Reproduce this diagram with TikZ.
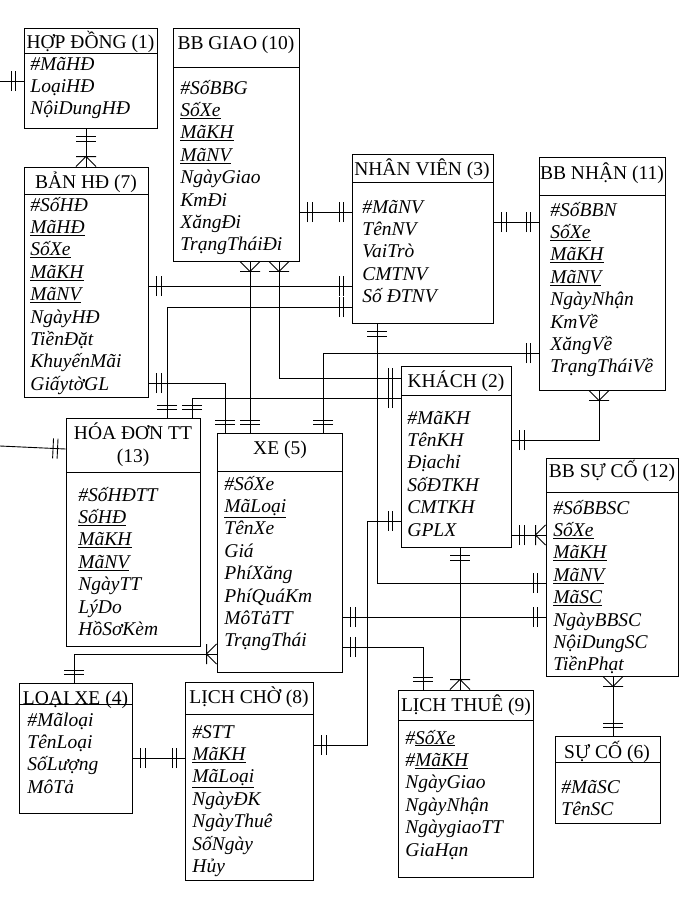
\documentclass[tikz,border=0pt]{standalone}
\usepackage{fontspec}
\setmainfont{Liberation Serif}
\usetikzlibrary{fit,calc,decorations.markings}

% box with a header line: name, left, top, right, header line, bottom
\newcommand{\entity}[6]{%
  \node[entbox, fit={(#2,#3) (#4,#6)}] (#1) {};
  \draw (#2,#5) -- (#4,#5);}
% attribute rows: name, x, first baseline, list
\newcommand{\attrlist}[4]{%
  \foreach \att [count=\i from 0] in {#4}
    \node[attr] (#1-\i) at (#2,#3+22.4*\i) {\att};}

\begin{document}
\begin{tikzpicture}[
  x=1pt, y=-1pt, line width=0.9pt,
  entbox/.style={draw, inner sep=0pt},
  ttl/.style={font=\fontsize{19.5}{22}\selectfont, anchor=base, inner sep=0pt},
  attr/.style={font=\fontsize{19.5}{22.4}\selectfont\itshape, anchor=base west,
               inner sep=0pt},
  dbl start/.style={postaction={decorate, decoration={markings,
      mark=at position 8pt with {\draw (0,-10pt) -- (0,10pt);},
      mark=at position 12.5pt with {\draw (0,-10pt) -- (0,10pt);}}}},
  dbl end/.style={postaction={decorate, decoration={markings,
      mark=at position -12.5pt with {\draw (0,-10pt) -- (0,10pt);},
      mark=at position -8pt with {\draw (0,-10pt) -- (0,10pt);}}}},
  crow start/.style={postaction={decorate, decoration={markings,
      mark=at position 10pt with {\draw (0,-10pt) -- (0,10pt)
        (-10pt,-10pt) -- (0,0) -- (-10pt,10pt);}}}},
  crow end/.style={postaction={decorate, decoration={markings,
      mark=at position -10pt with {\draw (0,-10pt) -- (0,10pt)
        (10pt,-10pt) -- (0,0) -- (10pt,10pt);}}}},
]
\useasboundingbox (0,0) rectangle (682,906);

% ---------- Entities ----------
\entity{hopdong}{24}{28}{157}{53}{128}
\node[ttl] (hopdong-t) at (90.5,48) {HỢP ĐỒNG (1)};
\attrlist{hopdong}{30}{70}{\#MãHĐ, LoạiHĐ, NộiDungHĐ}

\entity{bbgiao}{173}{28}{299}{67}{261}
\node[ttl] (bbgiao-t) at (236,49) {BB GIAO (10)};
\attrlist{bbgiao}{180}{94}{\#SốBBG, \underline{SốXe}, \underline{MãKH}, \underline{MãNV},
  NgàyGiao, KmĐi, XăngĐi, TrạngTháiĐi}

\entity{nhanvien}{352}{154}{493}{182}{323}
\node[ttl] (nhanvien-t) at (422,175) {NHÂN VIÊN (3)};
\attrlist{nhanvien}{362}{213}{\#MãNV, TênNV, VaiTrò, CMTNV, Số ĐTNV}

\entity{bbnhan}{539}{157}{665}{195}{390}
\node[ttl] (bbnhan-t) at (602,179) {BB NHẬN (11)};
\attrlist{bbnhan}{550}{216}{\#SốBBN, \underline{SốXe}, \underline{MãKH}, \underline{MãNV},
  NgàyNhận, KmVề, XăngVề, TrạngTháiVề}

\entity{banhd}{24}{167}{148}{194}{397}
\node[ttl] (banhd-t) at (86,188) {BẢN HĐ (7)};
\attrlist{banhd}{30}{211}{\#SốHĐ, \underline{MãHĐ}, \underline{SốXe}, \underline{MãKH},
  \underline{MãNV}, NgàyHĐ, TiềnĐặt, KhuyếnMãi, GiấytờGL}

\entity{khach}{401}{366}{511}{395}{547}
\node[ttl] (khach-t) at (456,387) {KHÁCH (2)};
\attrlist{khach}{407}{424}{\#MãKH, TênKH, Địachỉ, SốĐTKH, CMTKH, GPLX}

\entity{hoadon}{66}{418}{200}{472}{646}
\node[ttl] (hoadon-t) at (133,439) {HÓA ĐƠN TT};
\node[ttl] (hoadon-n) at (133,462) {(13)};
\attrlist{hoadon}{78}{501}{\#SốHĐTT, \underline{SốHĐ}, \underline{MãKH}, \underline{MãNV},
  NgàyTT, LýDo, HồSơKèm}

\entity{xe}{217}{433}{342}{471}{672}
\node[ttl] (xe-t) at (280,454) {XE (5)};
\attrlist{xe}{224}{490}{\#SốXe, \underline{MãLoại}, TênXe, Giá, PhíXăng, PhíQuáKm,
  MôTảTT, TrạngThái}

\entity{bbsuco}{546}{458}{678}{492}{676}
\node[ttl] (bbsuco-t) at (612,477) {BB SỰ CỐ (12)};
\attrlist{bbsuco}{553}{514}{\#SốBBSC, \underline{SốXe}, \underline{MãKH}, \underline{MãNV},
  \underline{MãSC}, NgàyBBSC, NộiDungSC, TiềnPhạt}

\entity{loaixe}{19}{683}{132}{704}{813}
\node[ttl] (loaixe-t) at (75.5,704) {LOẠI XE (4)};
\attrlist{loaixe}{27}{726}{\#Mãloại, TênLoại, SốLượng, MôTả}

\entity{lichcho}{185}{682}{313}{714}{880}
\node[ttl] (lichcho-t) at (249,703) {LỊCH CHỜ (8)};
\attrlist{lichcho}{192}{738}{\#STT, \underline{MãKH}, \underline{MãLoại}, NgàyĐK,
  NgàyThuê, SốNgày, Hủy}

\entity{lichthue}{398}{690}{533}{720}{877}
\node[ttl] (lichthue-t) at (466,711) {LỊCH THUÊ (9)};
\attrlist{lichthue}{405}{744}{\#\underline{SốXe}, \#\underline{MãKH}, NgàyGiao, NgàyNhận,
  NgàygiaoTT, GiaHạn}

\entity{suco}{555}{736}{660}{762}{823}
\node[ttl] (suco-t) at (607,758) {SỰ CỐ (6)};
\attrlist{suco}{561}{793}{\#MãSC, TênSC}

% ---------- Relations ----------
\coordinate (hdin) at (0,81);
\draw[dbl end] (hdin) -- (hopdong.west |- hdin);
\draw[dbl start, crow end] (hopdong.south -| 86,0) -- (banhd.north -| 86,0);

\draw[dbl start, dbl end] (bbgiao.east |- 0,212) -- (nhanvien.west |- 0,212);
\draw[dbl start, dbl end] (nhanvien.east |- 0,222) -- (bbnhan.west |- 0,222);
\draw[crow start, dbl end] (bbgiao.south -| 250,0) -- (xe.north -| 250,0);
\draw[crow start, dbl end] (bbgiao.south -| 279,0) |- (khach.west |- 0,378);

\draw[dbl start, dbl end] (banhd.east |- 0,286) -- (nhanvien.west |- 0,286);
\draw[dbl start, dbl end] (hoadon.north -| 167,0) |- (nhanvien.west |- 0,307);
\draw[dbl start, dbl end] (hoadon.north -| 192,0) |- (khach.west |- 0,398);
\draw[dbl start, dbl end] (banhd.east |- 0,383) -| (xe.north -| 225,0);
\draw[dbl start, dbl end] (xe.north -| 323,0) |- (bbnhan.west |- 0,353);

\draw[dbl start, dbl end] (nhanvien.south -| 377,0) |- (bbsuco.west |- 0,583);
\draw[dbl start, crow end] (khach.east |- 0,440) -| (bbnhan.south -| 599,0);
\draw[dbl start, crow end] (khach.east |- 0,535) -- (bbsuco.west |- 0,535);
\draw[dbl start, dbl end] (xe.east |- 0,617) -- (bbsuco.west |- 0,617);
\draw[dbl start, dbl end] (xe.east |- 0,647) -| (lichthue.north -| 423,0);

\coordinate (kc) at (367,745);
\draw[dbl start, dbl end] (khach.west |- 0,521) -| (kc) -- (lichcho.east |- kc);
\draw[dbl start, crow end] (khach.south -| 460,0) -- (lichthue.north -| 460,0);
\draw[crow start, dbl end] (bbsuco.south -| 613,0) -- (suco.north -| 613,0);

\draw[crow start, dbl end] (xe.west |- 0,654) -| (loaixe.north -| 74,0);
\draw[dbl start, dbl end] (loaixe.east |- 0,758) -- (lichcho.west |- 0,758);

\coordinate (hdttin) at (0,446);
\draw[dbl end] (hdttin) -- (hoadon.west |- 0,449);

\end{tikzpicture}
\end{document}
